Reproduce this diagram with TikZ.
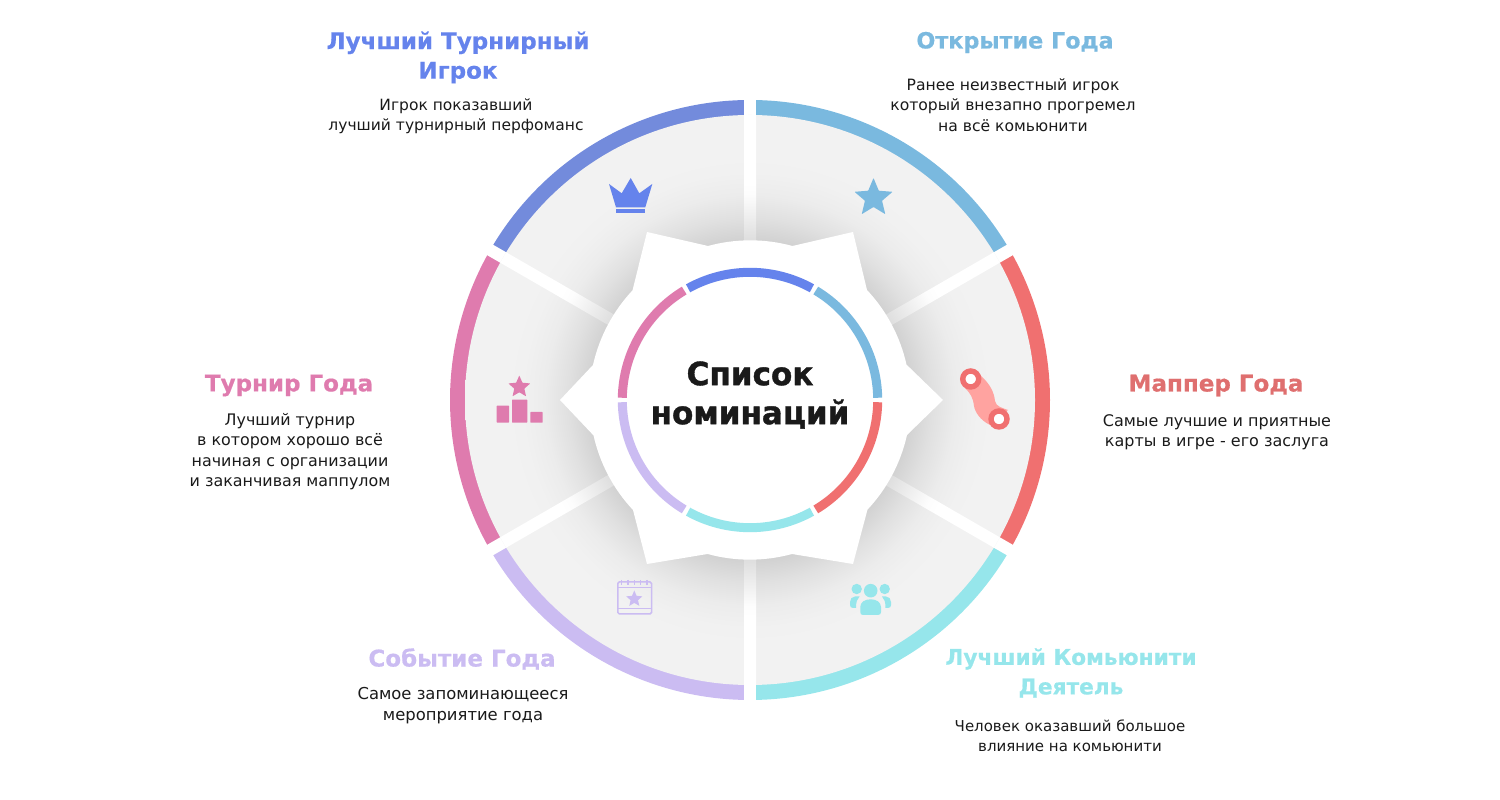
\documentclass[tikz,border=0pt]{standalone}
\usepackage{fontspec}
\usetikzlibrary{calc}
\setmainfont{DejaVu Sans}
\newfontface\titlefont[FakeBold=0.6]{DejaVu Sans Bold}
\newfontface\bigfont[FakeBold=1.2,FakeStretch=0.97]{DejaVu Sans Bold}
\definecolor{cblue}{HTML}{6583EC}
\definecolor{rblue}{HTML}{738BDC}
\definecolor{csky}{HTML}{7AB9DF}
\definecolor{cred}{HTML}{F07070}
\definecolor{tred}{HTML}{DF6F6F}
\definecolor{lred}{HTML}{FFA3A0}
\definecolor{ccyan}{HTML}{96E6EB}
\definecolor{clil}{HTML}{CBBCF2}
\definecolor{cpink}{HTML}{DF7BAE}
\definecolor{ctext}{HTML}{1A1A1A}
\pgfdeclareradialshading{sectorshade}{\pgfpoint{0bp}{0bp}}{%
 color(0bp)=(black!18!white);color(14bp)=(black!18!white);color(16bp)=(black!12!white);color(18bp)=(black!7.5!white);color(20bp)=(black!5.5!white);color(22bp)=(black!5!white);color(50bp)=(black!5!white)}
\pgfdeclareradialshading{gapshade}{\pgfpoint{0bp}{0bp}}{%
 color(0bp)=(black!13!white);color(14bp)=(black!13!white);color(16bp)=(black!7!white);color(18bp)=(black!1!white);color(19bp)=(white);color(50bp)=(white)}
\tikzset{
 ttl/.style={font=\titlefont\fontsize{#1}{29.5}\selectfont,align=center,inner sep=0pt},
 ttl/.default=23,
 bodytxt/.style={font=\fontsize{#1}{20.5}\selectfont,align=center,inner sep=0pt,text=ctext},
 bodytxt/.default=15.5,
 centertxt/.style={font=\bigfont\fontsize{32}{39}\selectfont,align=center,inner sep=0pt,text=ctext},
 gapstrip/.style={line width=12pt},
}
\newcommand{\starpath}[4]{% cx cy R r
 (#1+0.000*#3,#2+1.000*#3)
 -- (#1+0.588*#4,#2+0.809*#4) -- (#1+0.951*#3,#2+0.309*#3)
 -- (#1+0.951*#4,#2-0.309*#4) -- (#1+0.588*#3,#2-0.809*#3)
 -- (#1+0.000*#4,#2-1.000*#4) -- (#1-0.588*#3,#2-0.809*#3)
 -- (#1-0.951*#4,#2-0.309*#4) -- (#1-0.951*#3,#2+0.309*#3)
 -- (#1-0.588*#4,#2+0.809*#4) -- cycle}
\begin{document}
\begin{tikzpicture}[x=1pt,y=1pt]
\useasboundingbox (0,0) rectangle (1500,800);
\coordinate (c) at (750,400);
% outer ring wedges
\fill[rblue] (c) -- ++(90:300) arc[start angle=90,end angle=150,radius=300] -- cycle;
\fill[cpink] (c) -- ++(150:300) arc[start angle=150,end angle=210,radius=300] -- cycle;
\fill[clil] (c) -- ++(210:300) arc[start angle=210,end angle=270,radius=300] -- cycle;
\fill[ccyan] (c) -- ++(270:300) arc[start angle=270,end angle=330,radius=300] -- cycle;
\fill[cred] (c) -- ++(330:300) arc[start angle=330,end angle=390,radius=300] -- cycle;
\fill[csky] (c) -- ++(30:300) arc[start angle=30,end angle=90,radius=300] -- cycle;
% gaps
\foreach \a in {30,90,150}{
 \draw[white,gapstrip] ($(c)+(\a:305)$) -- ($(c)+(\a+180:305)$);
}
% sectors
\path[shading=sectorshade] (c) circle[radius=285];
\begin{scope}
 \clip (750,400) circle[radius=285];
 \foreach \a in {30,90,150}{
  \begin{scope}
  \clip[rotate around={\a:(c)}] (445,394) rectangle (1055,406);
  \path[shading=gapshade] (c) circle[radius=285];
  \end{scope}
 }
\end{scope}
% white star
\fill[white] (560,400) -- (593,435)
 arc[start angle=167.4,end angle=136.8,radius=160]
 -- (647,568) -- (708,554)
 arc[start angle=105.3,end angle=74.7,radius=160]
 -- (853,568) -- (867,510)
 arc[start angle=43.2,end angle=12.6,radius=160]
 -- (943,400) -- (907,365)
 arc[start angle=-12.6,end angle=-43.2,radius=160]
 -- (853,236) -- (792,246)
 arc[start angle=-74.7,end angle=-105.3,radius=160]
 -- (647,236) -- (633,290)
 arc[start angle=-136.8,end angle=-167.4,radius=160]
 -- cycle;
% inner ring
\foreach \s/\e/\col in {61/119/cblue,121/179/cpink,181/239/clil,241/299/ccyan,301/359/cred,1/59/csky}{
 \draw[\col,line width=9pt] ($(c)+(\s:127.7)$) arc[start angle=\s,end angle=\e,radius=127.7];
}
% icons: crown
\fill[cblue] (609,616) -- (621.7,606.7) -- (630.7,622) -- (639.3,606.7) -- (652.3,616) -- (645.3,592.7) -- (616,592.7) -- cycle;
\fill[cblue] (616,591) rectangle (645.3,587);
% star
\fill[csky,rounded corners=0.6pt] \starpath{873.5}{602}{20}{9};
% route
\fill[lred] (975,430) -- (981,424) .. controls (990,416) and (994,408) .. (995,399)
 .. controls (996,393) and (1003,392) .. (1008,390) -- (990,375)
 .. controls (980,380) and (975,388) .. (974,394) .. controls (973,402) and (971,406) .. (965,412) -- cycle;
\draw[cred,line width=5.4pt,fill=white] (970.7,421) circle[radius=8];
\draw[cred,line width=5.4pt,fill=white] (999,381) circle[radius=8];
% podium
\fill[cpink,rounded corners=0.5pt] (496.7,394.3) rectangle (509,377.3);
\fill[cpink,rounded corners=0.5pt] (512,400.3) rectangle (527.3,377.3);
\fill[cpink,rounded corners=0.5pt] (530.3,388) rectangle (542.7,377.3);
\fill[cpink,rounded corners=0.5pt] \starpath{519.3}{413}{11.5}{5.3};
% calendar
\draw[clil,line width=1.5pt,rounded corners=1.5pt] (617.8,218) rectangle (651.5,186);
\draw[clil,line width=1.5pt] (617.8,212.7) -- (651.5,212.7) (617.8,191.3) -- (651.5,191.3);
\foreach \x in {621.7,628,634.3,640.7,647}{
 \draw[clil,line width=1.4pt] (\x,220) -- (\x,215.3);
}
\fill[clil] \starpath{634.3}{201}{8.5}{3.9};
% people
\fill[ccyan] (870.7,209.3) circle[radius=6.8];
\fill[ccyan] (856.7,211) circle[radius=5.2];
\fill[ccyan] (884.7,211) circle[radius=5.2];
\fill[ccyan] (860.3,188) -- (860.3,193) .. controls (860.3,198) and (865,200.7) .. (870.7,200.7) .. controls (876,200.7) and (881,198) .. (881,193) -- (881,188) .. controls (881,186) and (880,185) .. (878,185) -- (863,185) .. controls (861,185) and (860.3,186) .. (860.3,188) -- cycle;
\fill[ccyan] (853,192) .. controls (851,192) and (850,193) .. (850,195) -- (850,198) .. controls (850,201) and (852,203.5) .. (855,203.5) -- (859.5,203.5) .. controls (857,201) and (856,198) .. (856,192) -- cycle;
\fill[ccyan] (888,192) .. controls (890,192) and (891,193) .. (891,195) -- (891,198) .. controls (891,201) and (889,203.5) .. (886,203.5) -- (882,203.5) .. controls (884.5,201) and (885.5,198) .. (885.5,192) -- cycle;
% text
\node[ttl,text=cblue] (t1) at (458,742.5) {Лучший Турнирный\\Игрок};
\node[bodytxt] (b1) at (456,684) {Игрок показавший\\лучший турнирный перфоманс};
\node[ttl=22.3,text=csky] (t2) at (1015,757.5) {Открытие Года};
\node[bodytxt=15.6] (b2) at (1013,695) {Ранее неизвестный игрок\\который внезапно прогремел\\на всё комьюнити};
\node[ttl,text=tred] (t3) at (1216,414.5) {Маппер Года};
\node[bodytxt=16] (b3) at (1217,368) {Самые лучшие и приятные\\карты в игре - его заслуга};
\node[ttl,text=cpink] (t4) at (289,414.5) {Турнир Года};
\node[bodytxt=15.9] (b4) at (290,348.5) {Лучший турнир\\в котором хорошо всё\\начиная с организации\\и заканчивая маппулом};
\node[ttl,text=clil] (t5) at (462,141) {Событие Года};
\node[bodytxt=16.4] (b5) at (463,94.5) {Самое запоминающееся\\[0.8pt]мероприятие года};
\node[ttl=21.7,text=ccyan] (t6) at (1071,127) {Лучший Комьюнити\\Деятель};
\node[bodytxt=15] (b6) at (1070,64) {Человек оказавший большое\\влияние на комьюнити};
\node[centertxt] (m) at (750,405) {Список\\номинаций};
\end{tikzpicture}
\end{document}
